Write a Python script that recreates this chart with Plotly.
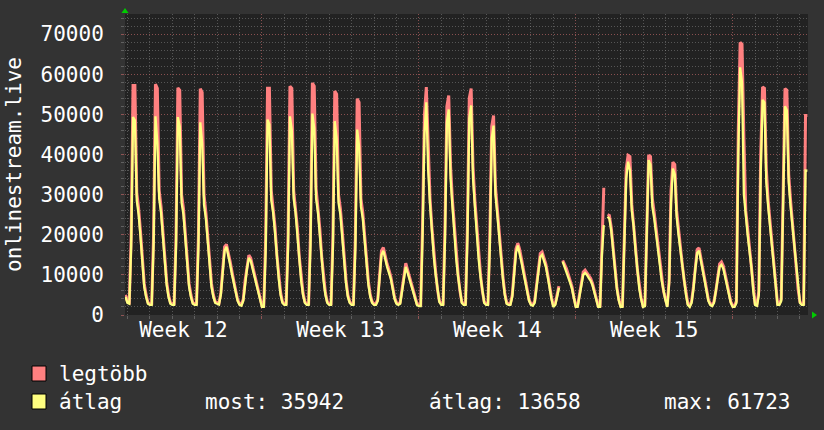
import plotly.graph_objects as go

# ---------------- data (values in thousands, 2-hour samples) ----------------
# day index k counts from Monday of week 12 (00:00); first sample is day 0, 22:00
START_DAY = 22 / 24
STEP_DAY = 2 / 24

AVG_K = [
    [4.5],
    [3.0, 2.8, 17.0, 49.3, 48.5, 28.5, 25.0, 19.5, 12.0, 7.0, 4.5, 2.8],
    [2.5, 2.5, 17.5, 49.5, 43.0, 29.0, 25.5, 19.0, 12.5, 7.5, 4.5, 2.8],
    [2.5, 2.5, 17.0, 49.3, 47.0, 28.0, 25.0, 19.0, 12.0, 7.0, 4.5, 2.8],
    [2.5, 2.5, 17.0, 48.0, 42.8, 27.5, 24.0, 18.0, 11.5, 7.0, 4.5, 3.0],
    [2.8, 2.6, 5.0, 11.0, 16.0, 17.0, 15.0, 12.5, 10.0, 7.5, 5.5, 3.5],
    [2.5, 2.3, 3.5, 8.0, 11.5, 14.2, 13.5, 11.5, 9.5, 7.5, 5.5, 3.7],
    [2.0, 2.0, 16.0, 48.7, 47.5, 28.6, 25.5, 20.5, 14.0, 9.0, 5.0, 3.0],
    [2.5, 2.5, 17.0, 49.5, 46.0, 29.0, 25.5, 20.0, 13.5, 8.5, 5.0, 3.0],
    [2.5, 2.5, 17.5, 50.2, 46.5, 29.0, 25.5, 20.0, 13.5, 8.5, 5.0, 3.0],
    [2.5, 2.5, 17.0, 48.3, 44.0, 28.0, 25.0, 19.5, 13.0, 8.0, 4.5, 3.0],
    [2.5, 2.5, 16.5, 46.2, 42.0, 27.0, 24.0, 18.5, 12.5, 7.5, 4.5, 3.0],
    [2.5, 2.5, 3.5, 9.0, 15.0, 16.0, 13.5, 12.0, 10.5, 9.0, 6.5, 4.0],
    [2.8, 2.5, 2.8, 6.0, 10.0, 12.0, 10.5, 8.8, 7.0, 5.6, 4.0, 2.5],
    [2.2, 2.2, 20.0, 45.0, 53.0, 36.0, 27.5, 20.4, 14.5, 10.0, 5.8, 3.2],
    [2.5, 2.5, 19.0, 48.0, 51.2, 34.0, 27.0, 20.0, 14.0, 9.5, 5.5, 3.0],
    [2.5, 2.5, 19.0, 49.0, 52.2, 34.0, 27.0, 20.0, 14.0, 9.5, 5.5, 3.0],
    [2.5, 2.5, 17.0, 44.0, 47.2, 30.0, 25.0, 19.0, 13.0, 9.0, 5.0, 2.8],
    [2.5, 2.5, 4.5, 10.5, 15.5, 17.3, 15.5, 13.0, 10.5, 8.0, 5.5, 3.5],
    [2.5, 2.3, 3.0, 6.5, 11.0, 14.5, 15.0, 13.5, 12.0, 9.5, 6.5, 4.0],
    [2.0, 2.5, 4.5, 6.8, None, 13.3, 12.0, 11.0, 9.5, 8.0, 6.5, 4.0],
    [2.0, 2.0, 4.5, 8.0, 10.0, 10.5, 10.0, 9.2, 8.5, 7.3, 5.3, 3.2],
    [2.0, 2.0, 15.0, 22.4, None, 24.5, 24.0, 21.0, 16.0, 11.5, 6.5, 3.7],
    [2.0, 2.0, 20.0, 34.0, 38.2, 36.0, 26.0, 22.0, 16.0, 10.5, 6.5, 4.0],
    [2.0, 2.2, 18.0, 38.6, 37.5, 27.0, 24.0, 20.5, 16.5, 12.5, 8.5, 5.5],
    [3.7, 2.0, 8.0, 28.0, 36.5, 35.0, 24.5, 20.0, 16.3, 12.0, 8.2, 5.0],
    [2.5, 2.0, 3.0, 6.5, 11.5, 15.5, 16.0, 13.5, 11.5, 9.0, 6.0, 3.5],
    [2.5, 2.2, 3.0, 5.5, 9.0, 12.0, 12.5, 11.5, 9.5, 7.5, 5.5, 3.0],
    [2.0, 2.0, 3.0, 40.0, 61.723, 58.0, 30.0, 24.0, 20.0, 16.0, 12.0, 6.0],
    [2.5, 2.3, 5.0, 35.0, 53.6, 53.0, 33.0, 27.0, 22.5, 17.0, 12.9, 7.5],
    [2.5, 2.5, 3.5, 25.0, 52.0, 51.0, 33.0, 27.0, 22.0, 16.5, 12.5, 6.0],
    [3.0, 2.5, 2.5, 36.0, 35.942],
]

MAX_K = [
    [5.0],
    [3.3, 3.1, 19.5, 57.2, 57.2, 30.5, 26.5, 20.8, 13.0, 7.8, 5.0, 3.1],
    [2.8, 2.8, 20.0, 57.5, 56.5, 31.0, 27.0, 20.5, 13.5, 8.3, 5.0, 3.1],
    [2.8, 2.8, 19.0, 56.6, 56.0, 30.0, 26.5, 20.5, 13.0, 7.8, 5.0, 3.1],
    [2.8, 2.8, 19.5, 56.4, 55.5, 30.0, 25.5, 19.5, 12.5, 7.8, 5.0, 3.3],
    [3.1, 2.9, 5.5, 11.8, 17.0, 17.6, 15.8, 13.3, 10.7, 8.0, 6.0, 3.8],
    [2.8, 2.6, 3.9, 8.6, 12.3, 14.9, 14.2, 12.2, 10.1, 8.0, 6.0, 4.0],
    [2.3, 2.3, 19.0, 56.5, 56.5, 31.0, 27.0, 22.0, 15.0, 9.8, 5.6, 3.3],
    [2.8, 2.8, 20.0, 57.0, 56.5, 31.0, 27.0, 21.5, 14.5, 9.3, 5.5, 3.3],
    [2.8, 2.8, 20.5, 57.8, 57.0, 31.5, 27.0, 21.5, 14.5, 9.3, 5.5, 3.3],
    [2.8, 2.8, 19.5, 55.8, 55.0, 30.0, 26.5, 21.0, 14.0, 8.8, 5.0, 3.3],
    [2.8, 2.8, 19.0, 53.9, 53.0, 29.0, 25.5, 20.0, 13.5, 8.3, 5.0, 3.3],
    [2.8, 2.8, 3.9, 9.7, 16.0, 16.8, 14.3, 12.7, 11.2, 9.6, 7.0, 4.4],
    [3.1, 2.8, 3.1, 6.5, 10.7, 12.9, 11.2, 9.4, 7.6, 6.1, 4.4, 2.8],
    [2.5, 2.5, 23.0, 50.0, 56.8, 40.0, 29.0, 21.8, 15.5, 10.7, 6.3, 3.5],
    [2.8, 2.8, 22.0, 52.0, 54.7, 37.0, 28.5, 21.5, 15.0, 10.2, 6.0, 3.3],
    [2.8, 2.8, 22.0, 54.0, 56.4, 37.0, 28.5, 21.5, 15.0, 10.2, 6.0, 3.3],
    [2.8, 2.8, 20.0, 47.0, 49.7, 32.0, 26.5, 20.5, 14.0, 9.7, 5.5, 3.1],
    [2.8, 2.8, 5.0, 11.3, 16.5, 17.9, 16.3, 13.8, 11.2, 8.6, 6.0, 3.8],
    [2.8, 2.6, 3.4, 7.0, 11.8, 15.3, 15.7, 14.2, 12.7, 10.1, 7.0, 4.4],
    [2.3, 2.8, 5.0, 7.2, None, 13.6, 12.6, 11.6, 10.1, 8.6, 7.0, 4.4],
    [2.3, 2.3, 5.0, 8.6, 10.7, 11.2, 10.6, 9.8, 9.1, 7.8, 5.8, 3.5],
    [2.3, 2.3, 17.0, 31.7, None, 25.0, 24.8, 21.8, 16.8, 12.2, 7.0, 4.0],
    [2.3, 2.3, 23.0, 36.5, 39.8, 39.5, 27.5, 23.0, 17.0, 11.2, 7.0, 4.3],
    [2.3, 2.5, 21.0, 39.8, 39.5, 29.0, 25.5, 21.5, 17.3, 13.2, 9.0, 5.9],
    [4.0, 2.3, 9.0, 31.0, 38.1, 37.5, 26.0, 21.0, 17.0, 12.7, 8.8, 5.4],
    [2.8, 2.3, 3.4, 7.0, 12.3, 16.3, 16.7, 14.3, 12.2, 9.6, 6.5, 3.8],
    [2.8, 2.5, 3.4, 6.0, 9.7, 12.7, 13.2, 12.2, 10.1, 8.0, 6.0, 3.3],
    [2.3, 2.3, 3.5, 46.0, 67.9, 67.5, 44.3, 26.0, 21.5, 17.0, 12.8, 6.5],
    [2.8, 2.6, 6.0, 40.0, 56.8, 56.5, 36.5, 28.5, 23.5, 18.0, 13.6, 8.0],
    [2.8, 2.8, 4.0, 30.0, 56.4, 56.0, 35.0, 28.5, 23.0, 17.5, 13.2, 6.5],
    [3.3, 2.8, 2.8, 49.7, 49.7],
]

WEEK_TICKS = [3.5, 10.5, 17.5, 24.5]
WEEK_LABELS = ["Week 12", "Week 13", "Week 14", "Week 15"]
WEEK_LINES = [0, 7, 14, 21, 28]
Y_TICKS = [0, 10000, 20000, 30000, 40000, 50000, 60000, 70000]

SERIES_NAMES = ["legtöbb", "átlag"]
SERIES_COLORS = ["#FF8080", "#FFFF80"]
STAT_LABELS = ["most", "átlag", "max"]
STAT_VALUES = [35942, 13658, 61723]
Y_TITLE = "onlinestream.live"

# ---------------- build ----------------
def flatten(days):
    out = []
    for d in days:
        out.extend(d)
    return out

avg = [None if v is None else v * 1000 for v in flatten(AVG_K)]
mx = [None if v is None else v * 1000 for v in flatten(MAX_K)]
t = [START_DAY + i * STEP_DAY for i in range(len(avg))]

W, H = 824, 430
L, R, T, B = 125, 808, 14, 315
XR = [0.8917, 31.36]
YR = [0, 75000]


def px(xp):
    return (xp - L) / (R - L)


def py(yp):
    return (B - yp) / (B - T)


FONT = "DejaVu Sans Mono"
TXT = "#FFFFFF"
MINOR = "rgba(165,165,165,0.40)"
MAJOR = "rgba(200,70,70,0.45)"
DASH = "1px,2px"

fig = go.Figure()
fig.add_trace(go.Scatter(x=t, y=mx, mode="lines", name=SERIES_NAMES[0],
                         line=dict(color=SERIES_COLORS[0], width=3),
                         connectgaps=False, showlegend=False, hoverinfo="skip"))
fig.add_trace(go.Scatter(x=t, y=avg, mode="lines", name=SERIES_NAMES[1],
                         line=dict(color=SERIES_COLORS[1], width=2.3),
                         connectgaps=False, showlegend=False, hoverinfo="skip"))
fig.add_trace(go.Scatter(x=[None], y=[None], xaxis="x2", yaxis="y",
                         showlegend=False, hoverinfo="skip"))

fig.update_layout(
    width=W, height=H,
    margin=dict(l=L, r=W - R, t=T, b=H - B, pad=0),
    paper_bgcolor="#333333", plot_bgcolor="#222222",
    font=dict(family=FONT, color=TXT, size=21),
    showlegend=False,
    hovermode=False,
    xaxis=dict(
        range=XR, tickmode="array", tickvals=WEEK_LINES, showticklabels=False,
        showgrid=True, gridcolor=MAJOR, griddash=DASH, gridwidth=1,
        ticks="outside", ticklen=3, tickcolor=MAJOR, zeroline=False,
        minor=dict(tickmode="linear", tick0=0, dtick=1, showgrid=True,
                   gridcolor=MINOR, griddash=DASH, gridwidth=1,
                   ticks="outside", ticklen=3, tickcolor=MINOR),
        fixedrange=True,
    ),
    xaxis2=dict(
        range=XR, overlaying="x", anchor="y", side="bottom",
        tickmode="array", tickvals=WEEK_TICKS, ticktext=WEEK_LABELS,
        showgrid=False, ticks="", zeroline=False, fixedrange=True,
        tickfont=dict(family=FONT, size=21, color=TXT),
    ),
    yaxis=dict(
        range=YR, tickmode="array", tickvals=Y_TICKS, tickformat="d",
        showgrid=True, gridcolor=MAJOR, griddash=DASH, gridwidth=1,
        ticks="outside", ticklen=3, tickcolor=MAJOR, zeroline=False,
        ticklabelstandoff=13,
        tickfont=dict(family=FONT, size=21, color=TXT),
        minor=dict(tickmode="linear", tick0=0, dtick=2000, showgrid=True,
                   gridcolor=MINOR, griddash=DASH, gridwidth=1,
                   ticks="outside", ticklen=3, tickcolor=MINOR),
        fixedrange=True,
    ),
)

ann = [
    dict(text=Y_TITLE, x=px(14), y=py(165), textangle=-90),
    dict(text=SERIES_NAMES[0], x=px(57), y=py(374), xanchor="left"),
    dict(text=SERIES_NAMES[1], x=px(57), y=py(402), xanchor="left"),
    dict(text=f"{STAT_LABELS[0]}: {STAT_VALUES[0]}", x=px(203), y=py(402), xanchor="left"),
    dict(text=f"{STAT_LABELS[1]}: {STAT_VALUES[1]}", x=px(427), y=py(402), xanchor="left"),
    dict(text=f"{STAT_LABELS[2]}: {STAT_VALUES[2]}", x=px(662), y=py(402), xanchor="left"),
]
for a in ann:
    a.update(xref="paper", yref="paper", showarrow=False, yanchor="middle",
             font=dict(family=FONT, size=21, color=TXT))
    a.setdefault("xanchor", "center")
fig.update_layout(annotations=ann)

shapes = []
for i, yc in enumerate([373.5, 401.5]):
    shapes.append(dict(type="rect", xref="paper", yref="paper",
                       x0=px(32), x1=px(46), y0=py(yc - 7.5), y1=py(yc + 7.5),
                       fillcolor=SERIES_COLORS[i], line=dict(color="#000000", width=1)))
# green axis arrows
up = f"M {px(125)},{py(8)} L {px(121.5)},{py(13)} L {px(128.5)},{py(13)} Z"
rt = f"M {px(817)},{py(315)} L {px(812)},{py(311.5)} L {px(812)},{py(318.5)} Z"
for p in (up, rt):
    shapes.append(dict(type="path", xref="paper", yref="paper", path=p,
                       fillcolor="#00CC00", line=dict(color="#00CC00", width=0)))
fig.update_layout(shapes=shapes)

fig.write_html("out.html", config={"displayModeBar": False},
               post_script="document.body.style.margin='0px';document.body.style.background='#333333';")
